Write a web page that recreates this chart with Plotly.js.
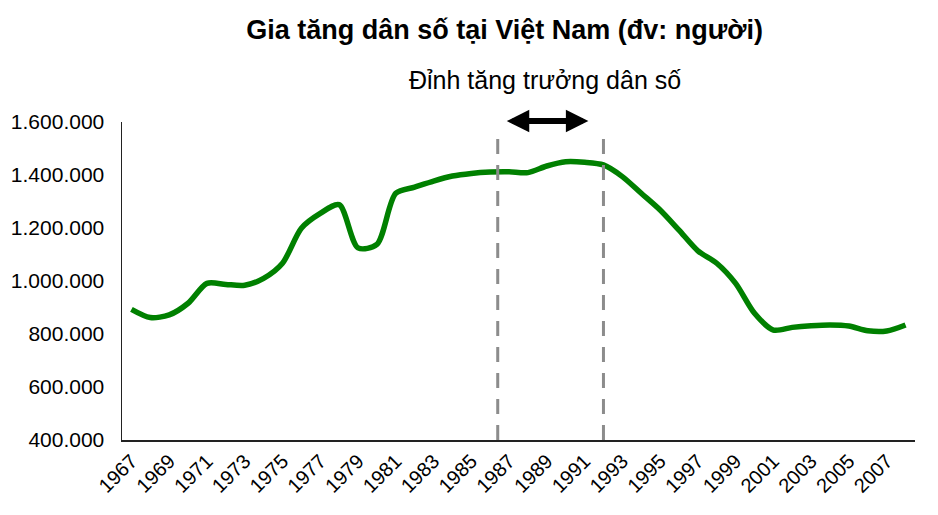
<!DOCTYPE html>
<html>
<head>
    <title>Gia tăng dân số tại Việt Nam</title>
    <script src="https://cdn.plot.ly/plotly-3.0.1.min.js"></script>
    <style>
        body { margin: 0; background: #fff; }
        #chart { width: 938px; height: 515px; }
    </style>
</head>
<body>
    <div id="chart"></div>
    <script>
        // số năm và mức tăng dân số mỗi năm (người)
        const years = [
            1967, 1968, 1969, 1970, 1971, 1972, 1973, 1974, 1975, 1976,
            1977, 1978, 1979, 1980, 1981, 1982, 1983, 1984, 1985, 1986,
            1987, 1988, 1989, 1990, 1991, 1992, 1993, 1994, 1995, 1996,
            1997, 1998, 1999, 2000, 2001, 2002, 2003, 2004, 2005, 2006,
            2007, 2008
        ];
        const increase = [
            893000, 862000, 872000, 916000, 991000, 987000, 984000, 1010000, 1067000, 1199000,
            1255000, 1288000, 1125000, 1138000, 1331000, 1354000, 1377000, 1396000, 1406000, 1411000,
            1412000, 1409000, 1434000, 1450000, 1448000, 1438000, 1394000, 1331000, 1268000, 1192000,
            1114000, 1067000, 991000, 878000, 815000, 825000, 831000, 834000, 830000, 812000,
            811000, 834000
        ];
        const tickYears = [1967, 1969, 1971, 1973, 1975, 1977, 1979, 1981, 1983, 1985, 1987,
            1989, 1991, 1993, 1995, 1997, 1999, 2001, 2003, 2005, 2007];

        // giai đoạn đỉnh tăng trưởng
        const peakStart = 1986.4;
        const peakEnd = 1992.0;
        const arrowFrom = 1986.8;
        const arrowTo = 1991.2;

        const trace = {
            x: years,
            y: increase,
            type: "scatter",
            mode: "lines",
            line: { color: "#008000", width: 5.5, shape: "spline", smoothing: 0.8 },
            hoverinfo: "x+y"
        };

        const dashStyle = { color: "#8c8c8c", width: 3, dash: "15px,11px" };

        const layout = {
            width: 938,
            height: 515,
            margin: { l: 122, r: 23, t: 122, b: 75 },
            paper_bgcolor: "#ffffff",
            plot_bgcolor: "#ffffff",
            separators: ",.",
            font: { family: "Liberation Sans, Arial, sans-serif", color: "#000" },
            showlegend: false,
            title: {
                text: "<b>Gia tăng dân số tại Việt Nam (đv: người)</b>",
                font: { size: 27, color: "#000" },
                x: 0.538, xanchor: "center",
                y: 0.942, yref: "container", yanchor: "middle"
            },
            xaxis: {
                range: [1966.5, 2008.5],
                tickvals: tickYears,
                ticktext: tickYears.map(String),
                tickangle: -45,
                tickfont: { size: 20 },
                showgrid: false,
                zeroline: false,
                showline: true,
                linecolor: "#222",
                linewidth: 1.5,
                ticks: "",
                fixedrange: true
            },
            yaxis: {
                range: [400000, 1600000],
                dtick: 200000,
                tickformat: ",d",
                tickfont: { size: 21 },
                showgrid: false,
                zeroline: false,
                showline: true,
                linecolor: "#222",
                linewidth: 1.5,
                ticks: "",
                ticklabelstandoff: 12,
                fixedrange: true
            },
            shapes: [
                { type: "line", xref: "x", yref: "y", x0: peakStart, x1: peakStart, y0: 400000, y1: 1540000, line: dashStyle },
                { type: "line", xref: "x", yref: "y", x0: peakEnd, x1: peakEnd, y0: 400000, y1: 1540000, line: dashStyle }
            ],
            annotations: [
                {
                    text: "Đỉnh tăng trưởng dân số",
                    xref: "x", yref: "paper",
                    x: 1988.9, y: 1.132,
                    showarrow: false,
                    font: { size: 25, color: "#000" },
                    xanchor: "center", yanchor: "middle"
                },
                {
                    text: "",
                    xref: "x", yref: "paper", axref: "x", ayref: "pixel",
                    x: arrowTo, y: 1.003,
                    ax: arrowFrom, ay: 0,
                    showarrow: true,
                    arrowside: "end+start",
                    arrowhead: 2,
                    arrowsize: 0.75,
                    arrowwidth: 6,
                    arrowcolor: "#000"
                }
            ]
        };

        Plotly.newPlot("chart", [trace], layout, { displayModeBar: false, staticPlot: true });
    </script>
</body>
</html>
